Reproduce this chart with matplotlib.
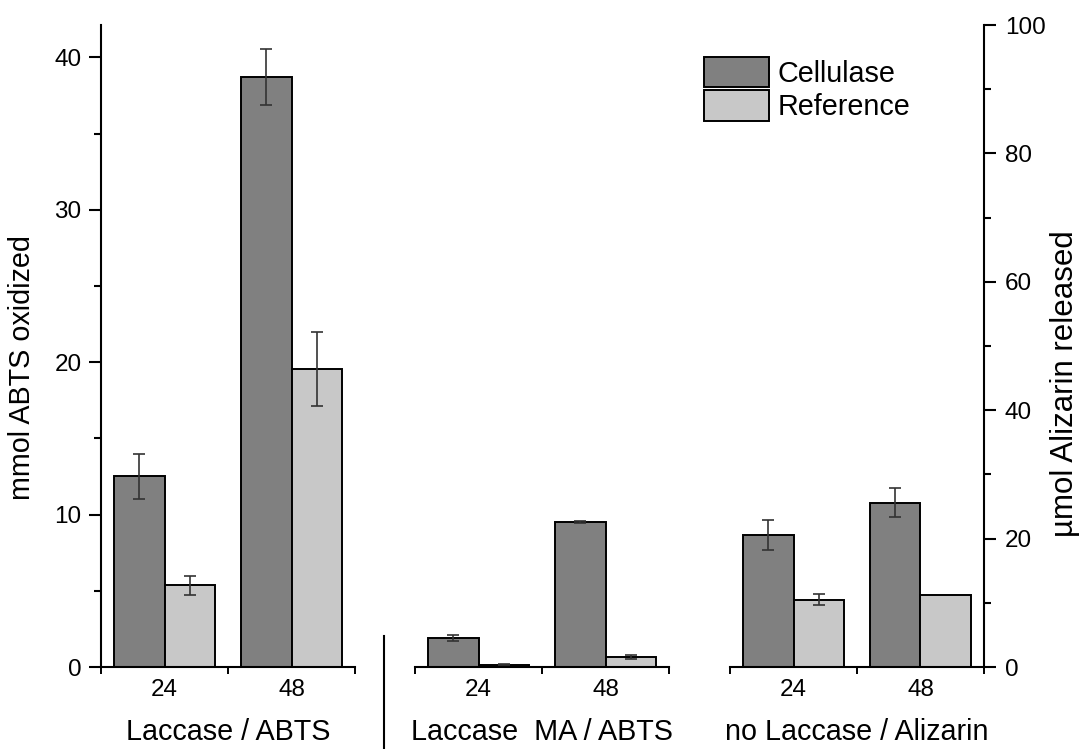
import matplotlib.pyplot as plt
from matplotlib.lines import Line2D
from matplotlib.transforms import blended_transform_factory
import numpy as np

plt.rcParams['font.family'] = ['Liberation Sans', 'DejaVu Sans']

hours = ['24', '48']
groups = ['Laccase / ABTS', 'Laccase  MA / ABTS', 'no Laccase / Alizarin']

# mmol ABTS oxidized (left axis)
abts_cell = [12.5, 38.7]
abts_cell_err = [1.5, 1.85]
abts_ref = [5.35, 19.55]
abts_ref_err = [0.65, 2.4]

ma_cell = [1.9, 9.5]
ma_cell_err = [0.17, 0.07]
ma_ref = [0.15, 0.64]
ma_ref_err = [0.05, 0.12]

# umol Alizarin released (right axis)
aliz_cell = [20.6, 25.6]
aliz_cell_err = [2.3, 2.3]
aliz_ref = [10.5, 11.25]
aliz_ref_err = [0.8, 0.0]

cell_color = '#808080'
ref_color = '#c8c8c8'
err_color = '#333333'

W, H = 1086, 749
fig = plt.figure(figsize=(W / 100, H / 100), dpi=100)
bottom = (H - 667) / H
height = 642 / H
lefts = [101, 415, 730]
axes = [fig.add_axes([l / W, bottom, 254 / W, height]) for l in lefts]

data = [
    (abts_cell, abts_cell_err, abts_ref, abts_ref_err),
    (ma_cell, ma_cell_err, ma_ref, ma_ref_err),
    (aliz_cell, aliz_cell_err, aliz_ref, aliz_ref_err),
]

x = np.arange(len(hours)) + 0.5
w = 0.4
handles = None
for ax, (c, ce, r, re), grp in zip(axes, data, groups):
    b1 = ax.bar(x - w / 2, c, w, color=cell_color, edgecolor='black', linewidth=1.4, label='Cellulase', zorder=2)
    b2 = ax.bar(x + w / 2, r, w, color=ref_color, edgecolor='black', linewidth=1.4, label='Reference', zorder=2)
    if handles is None:
        handles = [b1, b2]
    for xs, vals, errs in [(x - w / 2, c, ce), (x + w / 2, r, re)]:
        for xi, v, e in zip(xs, vals, errs):
            if e > 0:
                ax.errorbar(xi, v, yerr=e, fmt='none', ecolor=err_color, elinewidth=1.2,
                            capsize=4.6, capthick=1.2, zorder=3)
    ax.set_xlim(0, 2)
    ax.set_xticks([0, 1, 2])
    ax.set_xticklabels([])
    ax.set_xticks(x, minor=True)
    ax.set_xticklabels(hours, minor=True, fontsize=17.5)
    ax.tick_params(axis='x', which='major', direction='out', length=5, width=1.4)
    ax.tick_params(axis='x', which='minor', length=0, pad=8.5)
    for s in ['top', 'right', 'left']:
        ax.spines[s].set_visible(False)
    ax.spines['bottom'].set_linewidth(1.5)
    trans = blended_transform_factory(ax.transData, ax.transAxes)
    ax.text(1.0, -0.113, grp, transform=trans, ha='center', va='baseline', fontsize=20.7)

# left axis
ax1 = axes[0]
ax1.spines['left'].set_visible(True)
ax1.spines['left'].set_linewidth(1.5)
ax1.set_ylim(0, 42.12)
ax1.set_yticks([0, 10, 20, 30, 40])
ax1.set_yticks([5, 15, 25, 35], minor=True)
ax1.tick_params(axis='y', which='major', direction='out', length=8.5, width=1.5, labelsize=17.5, pad=5.5)
ax1.tick_params(axis='y', which='minor', direction='out', length=5, width=1.5)
ax1.set_ylabel('mmol ABTS oxidized', fontsize=20.7, va='center')
ax1.yaxis.set_label_coords(-0.311, 0.467)

# middle, no y axis
axes[1].set_ylim(0, 42.12)
axes[1].set_yticks([])
axes[1].tick_params(axis='y', which='both', left=False, labelleft=False)

# right axis
ax3 = axes[2]
ax3.set_ylim(0, 100)
ax3.spines['right'].set_visible(True)
ax3.spines['right'].set_linewidth(1.5)
ax3.yaxis.tick_right()
ax3.yaxis.set_label_position('right')
ax3.set_yticks([0, 20, 40, 60, 80, 100])
ax3.set_yticks([10, 30, 50, 70, 90], minor=True)
ax3.tick_params(axis='y', which='major', direction='out', length=8.5, width=1.5, labelsize=17.5, pad=6.5)
ax3.tick_params(axis='y', which='minor', direction='out', length=5, width=1.5)
ax3.set_ylabel('\u00b5mol Alizarin released', fontsize=22.5, va='center', rotation=90)
ax3.yaxis.set_label_coords(1.32, 0.442)

# separator between first and second group
fig.add_artist(Line2D([384 / W, 384 / W], [0, (H - 636) / H], transform=fig.transFigure,
                      color='black', linewidth=1.5))

fig.legend(handles=handles, labels=['Cellulase', 'Reference'], loc='upper left',
           bbox_to_anchor=(704 / W, 1 - 57 / H), frameon=False, fontsize=20.7,
           handlelength=2.25, handleheight=1.25, handletextpad=0.3, labelspacing=0.08,
           borderpad=0, borderaxespad=0)

fig.savefig('out.png', dpi=100)
